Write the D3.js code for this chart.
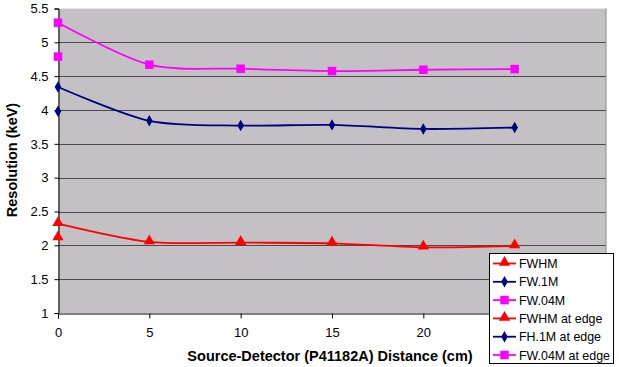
<!DOCTYPE html>
<html><head><meta charset="utf-8">
<script src="https://cdn.jsdelivr.net/npm/d3@7"></script>
<style>body{margin:0;background:#fff}svg{display:block}text{font-family:Arial,"Liberation Sans",sans-serif}</style>
</head><body>
<svg id="c" width="619" height="367"></svg>
<script>
const distances = [0, 5, 10, 15, 20, 25];
const fwhm = [2.32, 2.05, 2.04, 2.03, 1.97, 1.99];
const fw1m = [4.34, 3.84, 3.77, 3.78, 3.72, 3.74];
const fw04m = [5.29, 4.67, 4.61, 4.575, 4.595, 4.605];
const edgeDistance = [0];
const fwhmEdge = [2.11];
const fh1mEdge = [3.98];
const fw04mEdge = [4.79];
const xTicks = [0, 5, 10, 15, 20, 25, 30];
const xTickLabels = ["0", "5", "10", "15", "20", "", ""];
const yTicks = [1, 1.5, 2, 2.5, 3, 3.5, 4, 4.5, 5, 5.5];
const legendLabels = ["FWHM", "FW.1M", "FW.04M", "FWHM at edge", "FH.1M at edge", "FW.04M at edge"];

const svg = d3.select("#c");
const L = 58, R = 606, T = 8.5, B = 313;
const x = d3.scaleLinear().domain([0, 30]).range([L, R]);
const y = d3.scaleLinear().domain([1, 5.5]).range([B, T]);

svg.append("rect").attr("x", L).attr("y", T).attr("width", R - L).attr("height", B - T).attr("fill", "#c3c1c3");
// gridlines
svg.append("g").selectAll("line").data(yTicks.filter(v => v > 1 && v < 5.5)).join("line")
  .attr("x1", L).attr("x2", R).attr("y1", d => Math.round(y(d)) + 0.5).attr("y2", d => Math.round(y(d)) + 0.5)
  .attr("stroke", "#4a4a4a").attr("stroke-width", 1);
svg.append("line").attr("x1", L).attr("x2", R).attr("y1", T).attr("y2", T).attr("stroke", "#e6e6e6");
svg.append("line").attr("x1", R).attr("x2", R).attr("y1", T).attr("y2", B).attr("stroke", "#8a8a8a");

// axes
const ya = d3.axisLeft(y).tickValues(yTicks).tickSize(4).tickPadding(6).tickFormat(d3.format("~g"));
const yg = svg.append("g").attr("transform", `translate(${L + 0.5},0)`).call(ya);
const xa = d3.axisBottom(x).tickValues(xTicks).tickSize(5).tickPadding(9).tickFormat((d, i) => xTickLabels[i]);
const xg = svg.append("g").attr("transform", `translate(0,${B + 0.5})`).call(xa);
[yg, xg].forEach(g => {
  g.select(".domain").attr("stroke", "#000");
  g.selectAll(".tick line").attr("stroke", "#000");
  g.selectAll("text").attr("font-size", 13).attr("fill", "#000").attr("font-family", "Arial, 'Liberation Sans', sans-serif");
});

// titles
svg.append("text").attr("x", 330).attr("y", 361).attr("text-anchor", "middle")
  .attr("font-size", 14.5).attr("font-weight", "bold").text("Source-Detector (P41182A) Distance (cm)");
svg.append("text").attr("transform", "translate(17,160) rotate(-90)").attr("text-anchor", "middle")
  .attr("font-size", 14.5).attr("font-weight", "bold").text("Resolution (keV)");

const series = [
  {vals: fwhm, xs: distances, color: "#ff0000", shape: "tri"},
  {vals: fw1m, xs: distances, color: "#000080", shape: "dia"},
  {vals: fw04m, xs: distances, color: "#ff00ff", shape: "sq"},
  {vals: fwhmEdge, xs: edgeDistance, color: "#ff0000", shape: "tri"},
  {vals: fh1mEdge, xs: edgeDistance, color: "#000080", shape: "dia"},
  {vals: fw04mEdge, xs: edgeDistance, color: "#ff00ff", shape: "sq"}
];
const symType = {tri: d3.symbolTriangle, dia: d3.symbolDiamond, sq: d3.symbolSquare};
const symSize = {tri: 55, dia: 38, sq: 72};

const line = d3.line().x(d => x(d[0])).y(d => y(d[1])).curve(d3.curveCardinal.tension(0.15));
series.forEach(s => {
  const pts = s.xs.map((d, i) => [d, s.vals[i]]);
  if (pts.length > 1) {
    svg.append("path").attr("d", line(pts)).attr("fill", "none").attr("stroke", s.color).attr("stroke-width", 1.8);
  }
  svg.append("g").selectAll("path").data(pts).join("path")
    .attr("transform", d => `translate(${x(d[0])},${y(d[1]) + (s.shape === "tri" ? -1 : 0)})`)
    .attr("d", d3.symbol().type(symType[s.shape]).size(symSize[s.shape]))
    .attr("fill", s.color);
});

// legend
const lg = svg.append("g");
lg.append("rect").attr("x", 489.5).attr("y", 253.5).attr("width", 124).attr("height", 110)
  .attr("fill", "#fff").attr("stroke", "#000").attr("stroke-width", 1);
series.forEach((s, i) => {
  const yy = 263.5 + i * 18.3;
  lg.append("line").attr("x1", 493).attr("x2", 516).attr("y1", yy).attr("y2", yy).attr("stroke", s.color).attr("stroke-width", 1.8);
  lg.append("path").attr("transform", `translate(504.5,${yy + (s.shape === "tri" ? -1 : 0)})`)
    .attr("d", d3.symbol().type(symType[s.shape]).size(symSize[s.shape])).attr("fill", s.color);
  lg.append("text").attr("x", 519).attr("y", yy + 4.5).attr("font-size", 12.4).text(legendLabels[i]);
});
</script>
</body></html>
